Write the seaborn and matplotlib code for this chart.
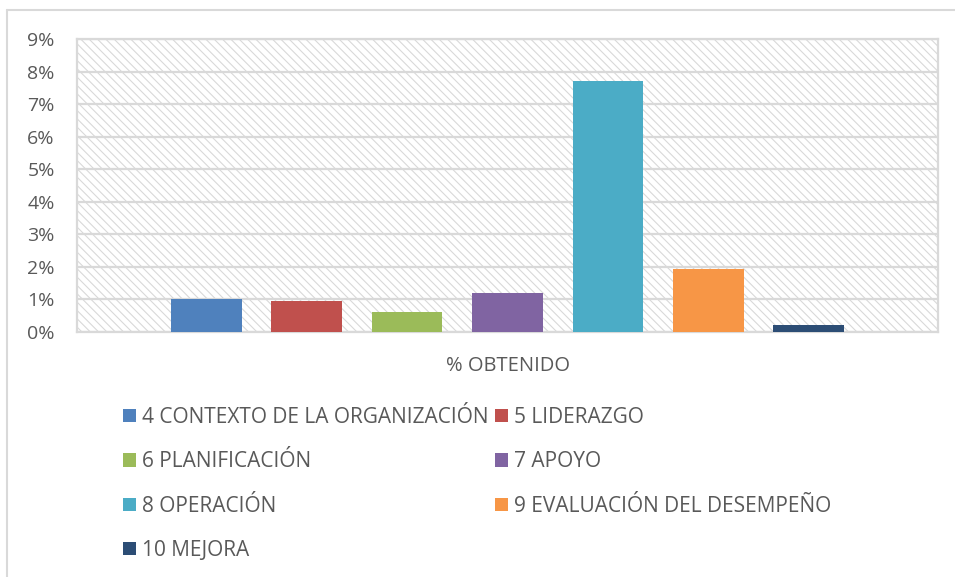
import matplotlib
matplotlib.use("Agg")
import matplotlib.pyplot as plt
import seaborn as sns
import pandas as pd
from matplotlib.patches import Rectangle
from matplotlib.lines import Line2D
from matplotlib.ticker import FuncFormatter

categories = ["% OBTENIDO"]
series = ["4 CONTEXTO DE LA ORGANIZACIÓN", "5 LIDERAZGO", "6 PLANIFICACIÓN",
          "7 APOYO", "8 OPERACIÓN", "9 EVALUACIÓN DEL DESEMPEÑO", "10 MEJORA"]
values = [1.00, 0.95, 0.61, 1.20, 7.72, 1.94, 0.20]
colors = ["#4F81BD", "#C0504D", "#9BBB59", "#8064A2", "#4BACC6", "#F79646", "#2C4D75"]
yticks = [0, 1, 2, 3, 4, 5, 6, 7, 8, 9]

sns.set_theme(style="white")
plt.rcParams["font.family"] = ["Open Sans", "DejaVu Sans"]
plt.rcParams["hatch.linewidth"] = 0.8

df = pd.DataFrame({"cat": categories * len(series), "serie": series, "val": values})

fig = plt.figure(figsize=(9.55, 5.77), dpi=100)
ax = fig.add_axes([77 / 955, 1 - 332 / 577, (938 - 77) / 955, (332 - 39) / 577])

# hatched background
bg = Rectangle((0, 0), 1, 1, transform=ax.transAxes, facecolor="white",
               edgecolor="#d9d9d9", hatch="\\\\\\\\", linewidth=0, zorder=0)
ax.add_patch(bg)

sns.barplot(data=df, x="cat", y="val", hue="serie", hue_order=series,
            palette=colors, width=0.817, gap=0.294, saturation=1,
            ax=ax, zorder=3, legend=True, edgecolor="none")

ax.set_ylim(yticks[0], yticks[-1])
ax.set_xlim(-0.5, 0.5)
ax.set_yticks(yticks)
ax.yaxis.set_major_formatter(FuncFormatter(lambda v, p: f"{int(round(v))}%"))
ax.grid(axis="y", color="#d9d9d9", linewidth=1.6, zorder=1)
ax.set_axisbelow(False)
for gl in ax.get_ygridlines():
    gl.set_zorder(1)
ax.set_xlabel("")
ax.set_ylabel("")
ax.tick_params(axis="both", length=0, colors="#595959")
ax.tick_params(axis="y", pad=16, labelsize=14)
ax.tick_params(axis="x", pad=17, labelsize=14.5)
for s in ax.spines.values():
    s.set_visible(True)
    s.set_color("#d9d9d9")
    s.set_linewidth(1.6)

# legend in row-major order
handles, labels = ax.get_legend_handles_labels()
ax.get_legend().remove()
order = [0, 2, 4, 6, 1, 3, 5]
leg = fig.legend([handles[i] for i in order], [labels[i] for i in order],
                 ncol=2, loc="upper left", bbox_to_anchor=(123 / 955, 1 - 407 / 577),
                 frameon=False, fontsize=15, handlelength=0.63, handleheight=0.63,
                 handletextpad=0.28, columnspacing=0.3, labelspacing=1.12,
                 borderaxespad=0, borderpad=0)
for t in leg.get_texts():
    t.set_color("#595959")

# outer chart frame (top and left)
fig.add_artist(Line2D([7 / 955, 1], [1 - 10 / 577, 1 - 10 / 577], transform=fig.transFigure,
                      color="#d9d9d9", linewidth=1.5))
fig.add_artist(Line2D([7 / 955, 7 / 955], [0, 1 - 10 / 577], transform=fig.transFigure,
                      color="#d9d9d9", linewidth=1.5))

fig.savefig("out.png", dpi=100, facecolor="white")
